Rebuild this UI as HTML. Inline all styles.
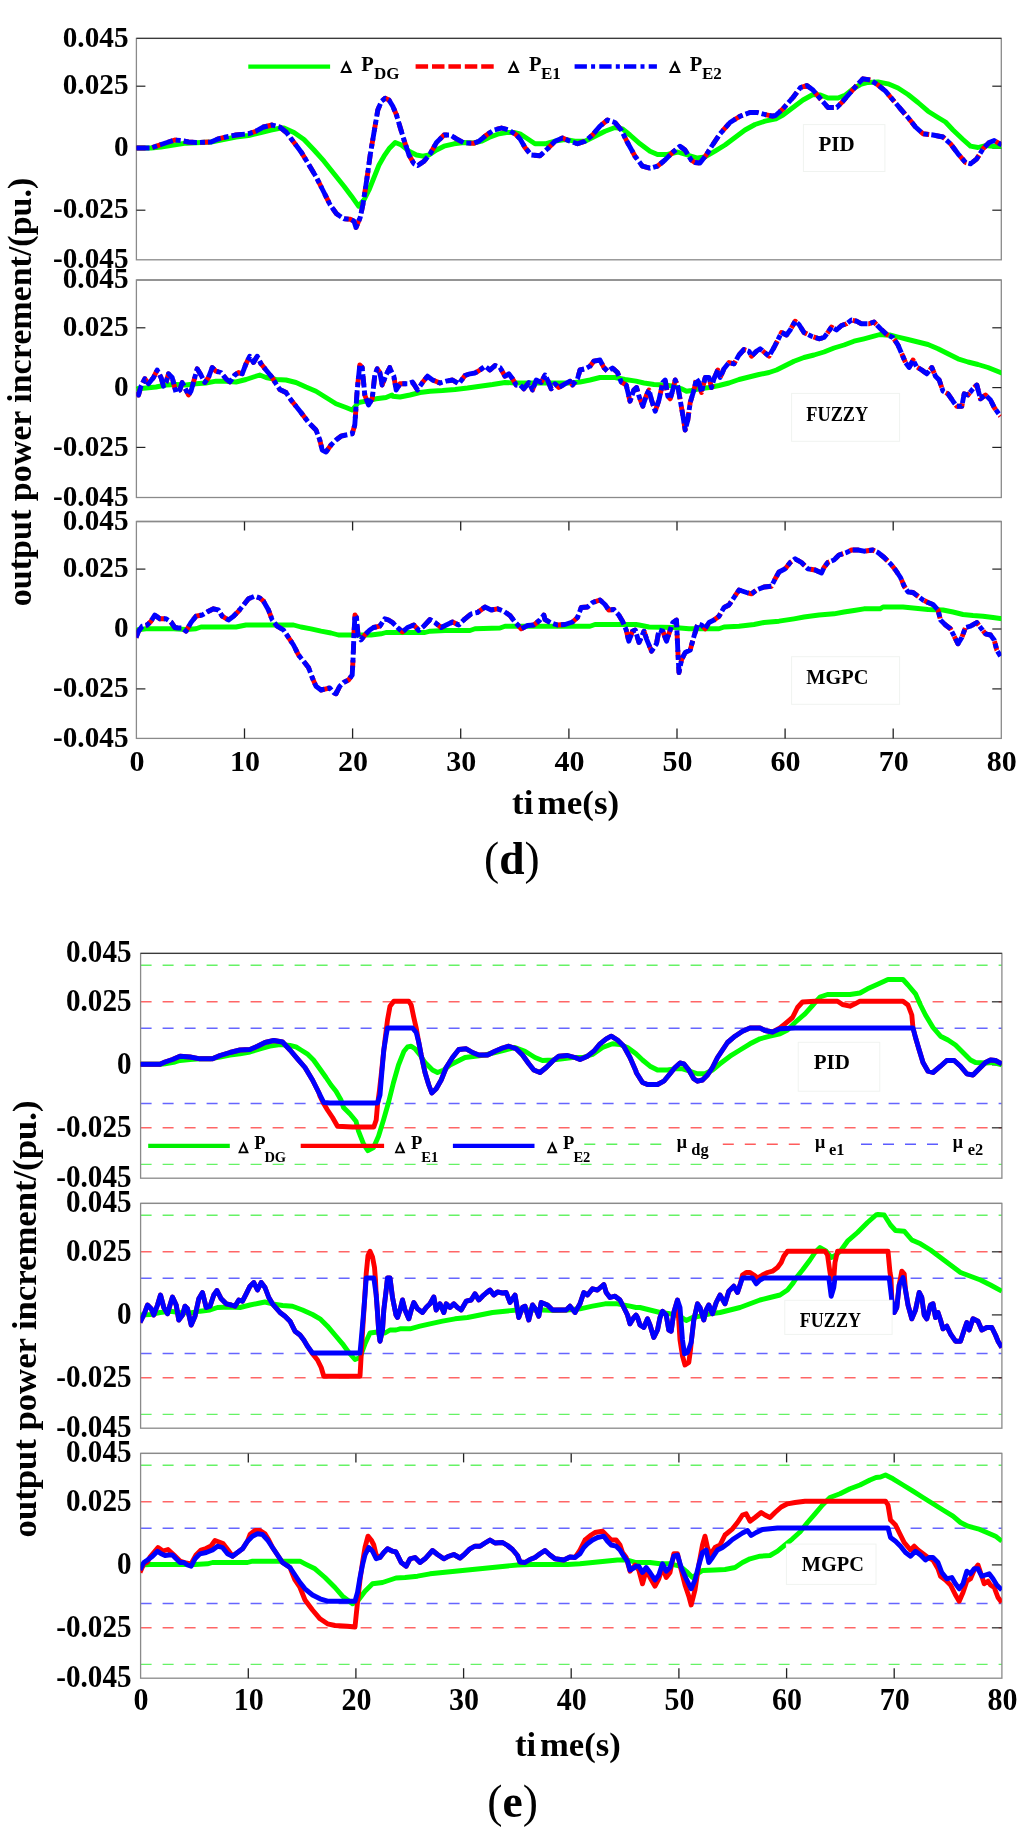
<!DOCTYPE html><html><head><meta charset="utf-8"><title>output power increment</title><style>html,body{margin:0;padding:0;background:#fff;width:1024px;height:1831px;overflow:hidden}svg{display:block;will-change:transform}</style></head><body><svg width="1024" height="1831" viewBox="0 0 1024 1831"><defs><clipPath id="cd0"><rect x="136.4" y="38.4" width="864.9" height="221.4"/></clipPath><clipPath id="cd1"><rect x="136.4" y="280.0" width="864.9" height="217.5"/></clipPath><clipPath id="cd2"><rect x="136.4" y="521.5" width="864.9" height="216.89999999999998"/></clipPath><clipPath id="ce0"><rect x="140.6" y="953.4" width="861.3" height="224.80000000000007"/></clipPath><clipPath id="ce1"><rect x="140.6" y="1203.4" width="861.3" height="224.79999999999995"/></clipPath><clipPath id="ce2"><rect x="140.6" y="1453.4" width="861.3" height="224.79999999999995"/></clipPath></defs><rect width="1024" height="1831" fill="#fff"/><rect x="136.4" y="38.4" width="864.9" height="221.4" fill="none" stroke="#8a8a8a" stroke-width="1.3"/><line x1="136.4" y1="38.4" x2="1001.3" y2="38.4" stroke="#3a3a3a" stroke-width="1.3"/><line x1="136.4" y1="86.2" x2="145.4" y2="86.2" stroke="#222" stroke-width="1.2"/><line x1="992.3" y1="86.2" x2="1001.3" y2="86.2" stroke="#222" stroke-width="1.2"/><line x1="136.4" y1="148.2" x2="145.4" y2="148.2" stroke="#222" stroke-width="1.2"/><line x1="992.3" y1="148.2" x2="1001.3" y2="148.2" stroke="#222" stroke-width="1.2"/><line x1="136.4" y1="210.2" x2="145.4" y2="210.2" stroke="#222" stroke-width="1.2"/><line x1="992.3" y1="210.2" x2="1001.3" y2="210.2" stroke="#222" stroke-width="1.2"/><rect x="136.4" y="280.0" width="864.9" height="217.5" fill="none" stroke="#8a8a8a" stroke-width="1.3"/><line x1="136.4" y1="280.0" x2="1001.3" y2="280.0" stroke="#8a8a8a" stroke-width="1.3"/><line x1="136.4" y1="327.8" x2="145.4" y2="327.8" stroke="#222" stroke-width="1.2"/><line x1="992.3" y1="327.8" x2="1001.3" y2="327.8" stroke="#222" stroke-width="1.2"/><line x1="136.4" y1="387.6" x2="145.4" y2="387.6" stroke="#222" stroke-width="1.2"/><line x1="992.3" y1="387.6" x2="1001.3" y2="387.6" stroke="#222" stroke-width="1.2"/><line x1="136.4" y1="447.4" x2="145.4" y2="447.4" stroke="#222" stroke-width="1.2"/><line x1="992.3" y1="447.4" x2="1001.3" y2="447.4" stroke="#222" stroke-width="1.2"/><rect x="136.4" y="521.5" width="864.9" height="216.89999999999998" fill="none" stroke="#8a8a8a" stroke-width="1.3"/><line x1="136.4" y1="521.5" x2="1001.3" y2="521.5" stroke="#8a8a8a" stroke-width="1.3"/><line x1="136.4" y1="569.1" x2="145.4" y2="569.1" stroke="#222" stroke-width="1.2"/><line x1="992.3" y1="569.1" x2="1001.3" y2="569.1" stroke="#222" stroke-width="1.2"/><line x1="136.4" y1="629.0" x2="145.4" y2="629.0" stroke="#222" stroke-width="1.2"/><line x1="992.3" y1="629.0" x2="1001.3" y2="629.0" stroke="#222" stroke-width="1.2"/><line x1="136.4" y1="688.9" x2="145.4" y2="688.9" stroke="#222" stroke-width="1.2"/><line x1="992.3" y1="688.9" x2="1001.3" y2="688.9" stroke="#222" stroke-width="1.2"/><line x1="244.5" y1="738.4" x2="244.5" y2="728.4" stroke="#222" stroke-width="1.3"/><line x1="244.5" y1="521.5" x2="244.5" y2="530.5" stroke="#222" stroke-width="1.3"/><line x1="352.6" y1="738.4" x2="352.6" y2="728.4" stroke="#222" stroke-width="1.3"/><line x1="352.6" y1="521.5" x2="352.6" y2="530.5" stroke="#222" stroke-width="1.3"/><line x1="460.7" y1="738.4" x2="460.7" y2="728.4" stroke="#222" stroke-width="1.3"/><line x1="460.7" y1="521.5" x2="460.7" y2="530.5" stroke="#222" stroke-width="1.3"/><line x1="568.9" y1="738.4" x2="568.9" y2="728.4" stroke="#222" stroke-width="1.3"/><line x1="568.9" y1="521.5" x2="568.9" y2="530.5" stroke="#222" stroke-width="1.3"/><line x1="677.0" y1="738.4" x2="677.0" y2="728.4" stroke="#222" stroke-width="1.3"/><line x1="677.0" y1="521.5" x2="677.0" y2="530.5" stroke="#222" stroke-width="1.3"/><line x1="785.1" y1="738.4" x2="785.1" y2="728.4" stroke="#222" stroke-width="1.3"/><line x1="785.1" y1="521.5" x2="785.1" y2="530.5" stroke="#222" stroke-width="1.3"/><line x1="893.2" y1="738.4" x2="893.2" y2="728.4" stroke="#222" stroke-width="1.3"/><line x1="893.2" y1="521.5" x2="893.2" y2="530.5" stroke="#222" stroke-width="1.3"/><line x1="140.6" y1="965.3" x2="1001.9" y2="965.3" stroke="#33ee33" stroke-opacity="0.75" stroke-width="1.4" stroke-dasharray="11 11"/><line x1="140.6" y1="1001.8" x2="1001.9" y2="1001.8" stroke="#ff3333" stroke-opacity="0.75" stroke-width="1.4" stroke-dasharray="11 11"/><line x1="140.6" y1="1028.3" x2="1001.9" y2="1028.3" stroke="#3333ff" stroke-opacity="0.75" stroke-width="1.4" stroke-dasharray="11 11"/><line x1="140.6" y1="1103.5" x2="1001.9" y2="1103.5" stroke="#3333ff" stroke-opacity="0.75" stroke-width="1.4" stroke-dasharray="11 11"/><line x1="140.6" y1="1127.8" x2="1001.9" y2="1127.8" stroke="#ff3333" stroke-opacity="0.75" stroke-width="1.4" stroke-dasharray="11 11"/><line x1="140.6" y1="1164.4" x2="1001.9" y2="1164.4" stroke="#33ee33" stroke-opacity="0.75" stroke-width="1.4" stroke-dasharray="11 11"/><rect x="140.6" y="953.4" width="861.3" height="224.80000000000007" fill="none" stroke="#8a8a8a" stroke-width="1.3"/><line x1="140.6" y1="953.4" x2="1001.9" y2="953.4" stroke="#3a3a3a" stroke-width="1.3"/><line x1="991.9" y1="1001.8" x2="1001.9" y2="1001.8" stroke="#333" stroke-width="1.3"/><line x1="991.9" y1="1064.9" x2="1001.9" y2="1064.9" stroke="#333" stroke-width="1.3"/><line x1="991.9" y1="1127.8" x2="1001.9" y2="1127.8" stroke="#333" stroke-width="1.3"/><line x1="140.6" y1="1215.3" x2="1001.9" y2="1215.3" stroke="#33ee33" stroke-opacity="0.75" stroke-width="1.4" stroke-dasharray="11 11"/><line x1="140.6" y1="1251.8" x2="1001.9" y2="1251.8" stroke="#ff3333" stroke-opacity="0.75" stroke-width="1.4" stroke-dasharray="11 11"/><line x1="140.6" y1="1278.3" x2="1001.9" y2="1278.3" stroke="#3333ff" stroke-opacity="0.75" stroke-width="1.4" stroke-dasharray="11 11"/><line x1="140.6" y1="1353.5" x2="1001.9" y2="1353.5" stroke="#3333ff" stroke-opacity="0.75" stroke-width="1.4" stroke-dasharray="11 11"/><line x1="140.6" y1="1377.8" x2="1001.9" y2="1377.8" stroke="#ff3333" stroke-opacity="0.75" stroke-width="1.4" stroke-dasharray="11 11"/><line x1="140.6" y1="1414.4" x2="1001.9" y2="1414.4" stroke="#33ee33" stroke-opacity="0.75" stroke-width="1.4" stroke-dasharray="11 11"/><rect x="140.6" y="1203.4" width="861.3" height="224.79999999999995" fill="none" stroke="#8a8a8a" stroke-width="1.3"/><line x1="140.6" y1="1203.4" x2="1001.9" y2="1203.4" stroke="#8a8a8a" stroke-width="1.3"/><line x1="991.9" y1="1251.8" x2="1001.9" y2="1251.8" stroke="#333" stroke-width="1.3"/><line x1="991.9" y1="1314.9" x2="1001.9" y2="1314.9" stroke="#333" stroke-width="1.3"/><line x1="991.9" y1="1377.8" x2="1001.9" y2="1377.8" stroke="#333" stroke-width="1.3"/><line x1="140.6" y1="1465.3" x2="1001.9" y2="1465.3" stroke="#33ee33" stroke-opacity="0.75" stroke-width="1.4" stroke-dasharray="11 11"/><line x1="140.6" y1="1501.8" x2="1001.9" y2="1501.8" stroke="#ff3333" stroke-opacity="0.75" stroke-width="1.4" stroke-dasharray="11 11"/><line x1="140.6" y1="1528.3" x2="1001.9" y2="1528.3" stroke="#3333ff" stroke-opacity="0.75" stroke-width="1.4" stroke-dasharray="11 11"/><line x1="140.6" y1="1603.5" x2="1001.9" y2="1603.5" stroke="#3333ff" stroke-opacity="0.75" stroke-width="1.4" stroke-dasharray="11 11"/><line x1="140.6" y1="1627.8" x2="1001.9" y2="1627.8" stroke="#ff3333" stroke-opacity="0.75" stroke-width="1.4" stroke-dasharray="11 11"/><line x1="140.6" y1="1664.4" x2="1001.9" y2="1664.4" stroke="#33ee33" stroke-opacity="0.75" stroke-width="1.4" stroke-dasharray="11 11"/><rect x="140.6" y="1453.4" width="861.3" height="224.79999999999995" fill="none" stroke="#8a8a8a" stroke-width="1.3"/><line x1="140.6" y1="1453.4" x2="1001.9" y2="1453.4" stroke="#8a8a8a" stroke-width="1.3"/><line x1="991.9" y1="1501.8" x2="1001.9" y2="1501.8" stroke="#333" stroke-width="1.3"/><line x1="991.9" y1="1564.9" x2="1001.9" y2="1564.9" stroke="#333" stroke-width="1.3"/><line x1="991.9" y1="1627.8" x2="1001.9" y2="1627.8" stroke="#333" stroke-width="1.3"/><line x1="248.3" y1="1678.2" x2="248.3" y2="1668.2" stroke="#222" stroke-width="1.3"/><line x1="248.3" y1="1453.4" x2="248.3" y2="1462.4" stroke="#222" stroke-width="1.3"/><line x1="355.9" y1="1678.2" x2="355.9" y2="1668.2" stroke="#222" stroke-width="1.3"/><line x1="355.9" y1="1453.4" x2="355.9" y2="1462.4" stroke="#222" stroke-width="1.3"/><line x1="463.6" y1="1678.2" x2="463.6" y2="1668.2" stroke="#222" stroke-width="1.3"/><line x1="463.6" y1="1453.4" x2="463.6" y2="1462.4" stroke="#222" stroke-width="1.3"/><line x1="571.2" y1="1678.2" x2="571.2" y2="1668.2" stroke="#222" stroke-width="1.3"/><line x1="571.2" y1="1453.4" x2="571.2" y2="1462.4" stroke="#222" stroke-width="1.3"/><line x1="678.9" y1="1678.2" x2="678.9" y2="1668.2" stroke="#222" stroke-width="1.3"/><line x1="678.9" y1="1453.4" x2="678.9" y2="1462.4" stroke="#222" stroke-width="1.3"/><line x1="786.6" y1="1678.2" x2="786.6" y2="1668.2" stroke="#222" stroke-width="1.3"/><line x1="786.6" y1="1453.4" x2="786.6" y2="1462.4" stroke="#222" stroke-width="1.3"/><line x1="894.2" y1="1678.2" x2="894.2" y2="1668.2" stroke="#222" stroke-width="1.3"/><line x1="894.2" y1="1453.4" x2="894.2" y2="1462.4" stroke="#222" stroke-width="1.3"/><path clip-path="url(#cd0)" d="M136.0,148.0 L151.0,148.0 L161.0,147.0 L173.5,145.0 L186.0,143.2 L201.0,142.5 L211.0,142.0 L223.5,139.5 L236.0,137.0 L248.5,135.5 L261.0,132.5 L271.0,130.0 L281.0,128.0 L284.0,128.0 L294.0,132.5 L304.0,139.5 L314.0,150.0 L324.0,161.2 L334.0,173.8 L344.0,186.2 L351.5,196.2 L358.5,206.2 L364.0,200.0 L369.0,190.0 L374.0,177.5 L379.0,165.0 L384.0,156.2 L389.0,148.8 L395.2,142.5 L401.5,145.0 L409.0,151.2 L416.5,155.0 L422.8,156.2 L429.0,155.0 L436.5,150.0 L444.0,146.2 L454.0,143.8 L464.0,142.5 L474.0,143.0 L481.5,141.2 L489.0,137.5 L499.0,133.8 L506.5,132.5 L514.0,132.5 L520.0,133.8 L527.5,138.8 L535.0,143.8 L545.0,143.8 L555.0,141.2 L565.0,139.5 L575.0,141.2 L585.0,141.2 L595.0,136.2 L605.0,131.2 L615.0,127.5 L622.5,128.8 L630.0,135.0 L640.0,143.8 L650.0,151.2 L657.5,154.5 L667.5,154.5 L677.5,152.0 L687.5,155.0 L697.5,158.0 L705.0,157.0 L715.0,151.2 L725.0,145.0 L735.0,137.5 L745.0,130.0 L755.0,124.5 L765.0,121.2 L776.0,118.8 L783.0,115.0 L793.0,107.5 L803.0,100.0 L813.0,94.5 L820.5,95.0 L828.0,98.0 L838.0,98.0 L845.5,95.0 L853.0,88.8 L860.5,84.5 L868.0,82.5 L878.0,82.0 L888.0,83.8 L898.0,88.0 L908.0,94.5 L918.0,102.5 L928.0,111.2 L938.0,117.5 L945.5,122.0 L953.0,130.0 L963.0,139.5 L970.5,146.2 L978.0,147.5 L985.5,145.5 L993.0,146.2 L1001.8,146.2" stroke="#00ff00" stroke-width="4.9" fill="none" stroke-linejoin="round" stroke-linecap="square"/><path clip-path="url(#cd0)" d="M136.0,148.0 L151.0,148.0 L156.0,146.2 L161.0,144.5 L168.5,142.0 L174.8,140.0 L181.0,140.5 L188.5,142.0 L196.0,142.5 L211.0,142.0 L218.5,138.8 L226.0,137.0 L236.0,135.0 L248.5,133.8 L256.0,131.2 L263.5,127.0 L272.2,125.0 L279.8,127.0 L286.5,132.5 L294.0,142.5 L301.5,152.5 L309.0,165.0 L316.5,177.5 L324.0,192.5 L330.2,205.0 L336.5,213.8 L344.0,218.8 L350.2,219.2 L354.0,221.2 L356.0,227.5 L360.2,217.5 L362.8,205.0 L365.2,190.0 L367.8,172.5 L370.2,155.0 L374.0,132.5 L377.8,110.0 L381.5,101.2 L385.2,98.2 L389.0,100.0 L392.8,106.2 L396.5,115.0 L400.2,127.5 L404.0,140.0 L409.0,155.0 L414.0,163.8 L417.8,165.5 L424.0,161.2 L430.2,153.8 L436.5,142.5 L444.0,135.0 L450.2,135.0 L456.5,138.8 L464.0,143.0 L474.0,143.2 L479.0,141.2 L486.5,135.0 L494.0,130.0 L501.5,128.0 L509.0,130.0 L516.5,135.0 L520.0,138.8 L525.0,147.5 L531.2,155.0 L540.0,155.8 L547.5,148.8 L555.0,141.2 L562.5,138.0 L570.0,141.2 L577.5,143.8 L585.0,141.2 L592.5,135.0 L600.0,126.2 L607.5,120.0 L615.0,122.5 L621.2,130.0 L627.5,142.5 L635.0,156.2 L642.5,166.2 L650.0,168.2 L657.5,166.2 L665.0,160.0 L672.5,152.5 L680.0,146.2 L685.0,150.0 L691.2,160.0 L695.0,162.5 L700.0,163.0 L706.2,155.0 L712.5,145.0 L720.0,133.8 L730.0,122.5 L740.0,116.2 L750.0,112.5 L757.5,112.5 L765.0,114.5 L772.5,116.2 L775.5,115.5 L783.0,108.8 L793.0,97.5 L800.5,87.5 L806.8,85.5 L813.0,90.0 L820.5,98.8 L828.0,107.5 L836.8,107.5 L843.0,101.2 L850.5,92.5 L858.0,83.8 L863.0,78.8 L870.5,80.0 L878.0,85.0 L885.5,91.2 L893.0,100.0 L900.5,108.8 L908.0,117.5 L915.5,127.0 L923.0,133.8 L933.0,135.0 L943.0,137.0 L950.5,143.8 L958.0,153.8 L965.5,162.5 L970.5,163.8 L976.8,158.8 L983.0,148.8 L989.2,142.5 L994.2,140.5 L1001.8,145.0" stroke="#ff0000" stroke-width="4.9" fill="none" stroke-linejoin="round" stroke-dasharray="9.5 6.9"/><path clip-path="url(#cd0)" d="M136.0,148.0 L151.0,148.0 L156.0,146.2 L161.0,144.5 L168.5,142.0 L174.8,140.0 L181.0,140.5 L188.5,142.0 L196.0,142.5 L211.0,142.0 L218.5,138.8 L226.0,137.0 L236.0,135.0 L248.5,133.8 L256.0,131.2 L263.5,127.0 L272.2,125.0 L279.8,127.0 L286.5,132.5 L294.0,142.5 L301.5,152.5 L309.0,165.0 L316.5,177.5 L324.0,192.5 L330.2,205.0 L336.5,213.8 L344.0,218.8 L350.2,219.2 L354.0,221.2 L356.0,227.5 L360.2,217.5 L362.8,205.0 L365.2,190.0 L367.8,172.5 L370.2,155.0 L374.0,132.5 L377.8,110.0 L381.5,101.2 L385.2,98.2 L389.0,100.0 L392.8,106.2 L396.5,115.0 L400.2,127.5 L404.0,140.0 L409.0,155.0 L414.0,163.8 L417.8,165.5 L424.0,161.2 L430.2,153.8 L436.5,142.5 L444.0,135.0 L450.2,135.0 L456.5,138.8 L464.0,143.0 L474.0,143.2 L479.0,141.2 L486.5,135.0 L494.0,130.0 L501.5,128.0 L509.0,130.0 L516.5,135.0 L520.0,138.8 L525.0,147.5 L531.2,155.0 L540.0,155.8 L547.5,148.8 L555.0,141.2 L562.5,138.0 L570.0,141.2 L577.5,143.8 L585.0,141.2 L592.5,135.0 L600.0,126.2 L607.5,120.0 L615.0,122.5 L621.2,130.0 L627.5,142.5 L635.0,156.2 L642.5,166.2 L650.0,168.2 L657.5,166.2 L665.0,160.0 L672.5,152.5 L680.0,146.2 L685.0,150.0 L691.2,160.0 L695.0,162.5 L700.0,163.0 L706.2,155.0 L712.5,145.0 L720.0,133.8 L730.0,122.5 L740.0,116.2 L750.0,112.5 L757.5,112.5 L765.0,114.5 L772.5,116.2 L775.5,115.5 L783.0,108.8 L793.0,97.5 L800.5,87.5 L806.8,85.5 L813.0,90.0 L820.5,98.8 L828.0,107.5 L836.8,107.5 L843.0,101.2 L850.5,92.5 L858.0,83.8 L863.0,78.8 L870.5,80.0 L878.0,85.0 L885.5,91.2 L893.0,100.0 L900.5,108.8 L908.0,117.5 L915.5,127.0 L923.0,133.8 L933.0,135.0 L943.0,137.0 L950.5,143.8 L958.0,153.8 L965.5,162.5 L970.5,163.8 L976.8,158.8 L983.0,148.8 L989.2,142.5 L994.2,140.5 L1001.8,145.0" stroke="#0000ff" stroke-width="4.9" fill="none" stroke-linejoin="round" stroke-dasharray="13.5 3 5 3"/><path clip-path="url(#cd1)" d="M136.0,388.8 L146.0,388.0 L156.0,387.0 L166.0,385.0 L176.0,384.5 L186.0,385.0 L196.0,383.8 L206.0,383.0 L216.0,381.2 L226.0,381.2 L236.0,382.0 L246.0,379.5 L253.5,377.0 L259.8,375.0 L266.0,377.5 L276.0,379.5 L286.0,380.0 L296.0,382.5 L306.0,387.0 L316.0,391.2 L326.0,397.5 L336.0,403.8 L346.0,407.5 L352.2,410.0 L358.5,402.5 L366.0,401.2 L376.0,398.8 L386.0,397.5 L392.0,395.0 L392.5,396.2 L400.0,397.0 L410.0,395.0 L420.0,392.5 L430.0,391.2 L442.5,390.5 L455.0,389.5 L467.5,388.0 L480.0,386.2 L492.5,384.5 L505.0,382.5 L515.0,383.0 L525.0,383.0 L540.0,383.0 L555.0,383.0 L570.0,383.0 L580.0,382.0 L590.0,380.0 L600.0,377.5 L615.0,377.5 L625.0,379.5 L636.0,381.2 L644.0,383.0 L654.0,384.5 L664.0,385.0 L674.0,386.2 L681.5,388.8 L686.5,391.2 L691.5,390.5 L699.0,388.8 L709.0,387.5 L719.0,385.5 L729.0,383.0 L739.0,379.5 L749.0,377.0 L759.0,374.5 L769.0,372.5 L776.5,370.0 L784.0,366.2 L794.0,361.2 L804.0,357.5 L814.0,355.0 L824.0,352.0 L834.0,348.0 L844.0,345.0 L854.0,341.2 L864.0,338.8 L874.0,336.2 L880.0,334.5 L885.5,335.0 L890.5,335.0 L898.0,337.0 L908.0,339.5 L918.0,342.0 L928.0,344.5 L938.0,348.8 L948.0,353.8 L958.0,358.8 L968.0,362.0 L978.0,364.5 L988.0,367.5 L1001.8,373.0" stroke="#00ff00" stroke-width="4.9" fill="none" stroke-linejoin="round" stroke-linecap="square"/><path clip-path="url(#cd1)" d="M136.0,392.5 L138.5,395.0 L141.0,386.2 L144.8,378.8 L148.5,383.8 L153.5,377.5 L157.2,370.0 L161.0,377.5 L163.5,386.2 L166.0,382.5 L168.5,373.8 L172.2,377.5 L176.0,392.5 L179.8,390.0 L182.2,382.5 L186.0,390.0 L188.5,395.0 L191.0,391.2 L194.8,377.5 L197.2,368.8 L201.0,375.0 L204.8,382.5 L208.5,377.5 L212.2,367.5 L216.0,371.2 L221.0,372.5 L226.0,378.8 L229.8,382.0 L234.8,375.0 L238.5,372.5 L242.2,373.8 L246.0,363.8 L249.8,356.2 L253.5,362.5 L257.2,356.2 L261.0,363.8 L266.0,370.0 L272.2,377.5 L276.0,383.8 L279.8,389.5 L286.0,392.5 L291.0,400.0 L296.0,406.2 L301.0,412.5 L308.5,422.5 L316.0,430.0 L319.8,440.0 L322.2,450.0 L326.0,452.0 L331.0,445.0 L336.0,440.0 L341.0,436.2 L346.0,435.0 L352.2,433.8 L354.8,425.0 L356.0,407.5 L357.2,390.0 L359.8,365.0 L362.2,367.5 L364.8,395.0 L368.5,405.0 L372.2,398.8 L374.8,375.0 L377.2,368.8 L379.8,372.5 L382.2,385.0 L386.0,375.0 L389.8,367.5 L390.0,368.8 L393.8,376.2 L396.2,390.0 L400.0,383.8 L407.5,383.8 L412.5,382.0 L417.5,390.0 L422.5,382.5 L427.5,376.2 L432.5,380.0 L440.0,383.0 L446.2,381.2 L452.5,380.0 L458.8,383.8 L465.0,375.5 L470.0,373.8 L475.0,373.0 L480.0,370.0 L485.0,366.2 L490.0,370.0 L495.0,365.5 L500.0,367.5 L505.0,376.2 L508.8,373.8 L512.5,378.8 L516.2,385.0 L520.0,385.0 L523.8,388.8 L528.8,382.5 L532.5,390.0 L536.2,380.0 L541.2,382.5 L545.0,375.0 L547.5,380.0 L551.2,388.8 L555.0,383.8 L558.8,387.5 L565.0,383.8 L570.0,381.2 L572.5,385.0 L577.5,378.8 L580.0,370.0 L585.0,368.8 L590.0,366.2 L593.8,361.2 L600.0,360.0 L603.8,367.5 L607.5,371.2 L612.5,368.0 L617.5,372.5 L621.2,382.0 L626.2,385.0 L630.0,401.2 L633.8,390.0 L636.5,387.5 L639.0,396.2 L642.8,406.2 L646.5,395.0 L649.0,390.0 L651.5,400.0 L655.2,411.2 L659.0,400.0 L662.8,382.5 L665.2,380.0 L667.8,396.2 L670.2,398.8 L672.8,390.0 L675.2,380.0 L677.8,386.2 L680.2,400.0 L682.8,415.0 L685.2,430.0 L687.8,420.0 L690.2,402.5 L694.0,390.0 L696.5,378.8 L699.0,382.5 L701.5,392.5 L705.2,377.5 L709.0,377.5 L711.5,387.5 L714.0,378.8 L717.8,370.0 L720.2,377.5 L724.0,368.8 L729.0,362.5 L734.0,363.8 L739.0,355.0 L744.0,349.5 L749.0,351.2 L751.5,356.2 L756.5,351.2 L760.2,348.8 L764.0,352.0 L769.0,356.2 L774.0,347.5 L777.8,340.0 L781.5,332.5 L786.5,335.0 L790.2,330.0 L795.2,321.2 L799.0,324.5 L804.0,332.5 L811.5,336.2 L819.0,338.8 L824.0,337.5 L827.8,332.5 L831.5,327.0 L836.5,330.0 L841.5,325.5 L846.5,323.8 L851.5,320.0 L856.5,321.2 L861.5,323.8 L869.0,323.8 L874.0,322.0 L880.5,328.8 L886.8,334.5 L893.0,337.5 L898.0,345.0 L901.8,353.8 L905.5,362.5 L909.2,367.5 L913.0,360.0 L916.8,367.0 L921.8,370.0 L926.8,373.8 L931.8,367.5 L935.5,376.2 L939.2,380.0 L943.0,391.2 L948.0,393.8 L953.0,401.2 L956.8,406.2 L961.8,406.2 L964.2,393.8 L968.0,395.0 L973.0,388.8 L976.8,385.0 L980.5,398.8 L985.5,395.0 L990.5,400.0 L994.2,407.5 L1000.5,416.2" stroke="#ff0000" stroke-width="4.9" fill="none" stroke-linejoin="round" stroke-dasharray="9.5 6.9"/><path clip-path="url(#cd1)" d="M136.0,392.5 L138.5,395.0 L141.0,386.2 L144.8,378.8 L148.5,383.8 L153.5,377.5 L157.2,370.0 L161.0,377.5 L163.5,386.2 L166.0,382.5 L168.5,373.8 L172.2,377.5 L176.0,392.5 L179.8,390.0 L182.2,382.5 L186.0,390.0 L188.5,395.0 L191.0,391.2 L194.8,377.5 L197.2,368.8 L201.0,375.0 L204.8,382.5 L208.5,377.5 L212.2,367.5 L216.0,371.2 L221.0,372.5 L226.0,378.8 L229.8,382.0 L234.8,375.0 L238.5,372.5 L242.2,373.8 L246.0,363.8 L249.8,356.2 L253.5,362.5 L257.2,356.2 L261.0,363.8 L266.0,370.0 L272.2,377.5 L276.0,383.8 L279.8,389.5 L286.0,392.5 L291.0,400.0 L296.0,406.2 L301.0,412.5 L308.5,422.5 L316.0,430.0 L319.8,440.0 L322.2,450.0 L326.0,452.0 L331.0,445.0 L336.0,440.0 L341.0,436.2 L346.0,435.0 L352.2,433.8 L354.8,425.0 L356.0,407.5 L357.2,390.0 L359.8,365.0 L362.2,367.5 L364.8,395.0 L368.5,405.0 L372.2,398.8 L374.8,375.0 L377.2,368.8 L379.8,372.5 L382.2,385.0 L386.0,375.0 L389.8,367.5 L390.0,368.8 L393.8,376.2 L396.2,390.0 L400.0,383.8 L407.5,383.8 L412.5,382.0 L417.5,390.0 L422.5,382.5 L427.5,376.2 L432.5,380.0 L440.0,383.0 L446.2,381.2 L452.5,380.0 L458.8,383.8 L465.0,375.5 L470.0,373.8 L475.0,373.0 L480.0,370.0 L485.0,366.2 L490.0,370.0 L495.0,365.5 L500.0,367.5 L505.0,376.2 L508.8,373.8 L512.5,378.8 L516.2,385.0 L520.0,385.0 L523.8,388.8 L528.8,382.5 L532.5,390.0 L536.2,380.0 L541.2,382.5 L545.0,375.0 L547.5,380.0 L551.2,388.8 L555.0,383.8 L558.8,387.5 L565.0,383.8 L570.0,381.2 L572.5,385.0 L577.5,378.8 L580.0,370.0 L585.0,368.8 L590.0,366.2 L593.8,361.2 L600.0,360.0 L603.8,367.5 L607.5,371.2 L612.5,368.0 L617.5,372.5 L621.2,382.0 L626.2,385.0 L630.0,401.2 L633.8,390.0 L636.5,387.5 L639.0,396.2 L642.8,406.2 L646.5,395.0 L649.0,390.0 L651.5,400.0 L655.2,411.2 L659.0,400.0 L662.8,382.5 L665.2,380.0 L667.8,396.2 L670.2,398.8 L672.8,390.0 L675.2,380.0 L677.8,386.2 L680.2,400.0 L682.8,415.0 L685.2,430.0 L687.8,420.0 L690.2,402.5 L694.0,390.0 L696.5,378.8 L699.0,382.5 L701.5,392.5 L705.2,377.5 L709.0,377.5 L711.5,387.5 L714.0,378.8 L717.8,370.0 L720.2,377.5 L724.0,368.8 L729.0,362.5 L734.0,363.8 L739.0,355.0 L744.0,349.5 L749.0,351.2 L751.5,356.2 L756.5,351.2 L760.2,348.8 L764.0,352.0 L769.0,356.2 L774.0,347.5 L777.8,340.0 L781.5,332.5 L786.5,335.0 L790.2,330.0 L795.2,321.2 L799.0,324.5 L804.0,332.5 L811.5,336.2 L819.0,338.8 L824.0,337.5 L827.8,332.5 L831.5,327.0 L836.5,330.0 L841.5,325.5 L846.5,323.8 L851.5,320.0 L856.5,321.2 L861.5,323.8 L869.0,323.8 L874.0,322.0 L880.5,328.8 L886.8,334.5 L893.0,337.5 L898.0,345.0 L901.8,353.8 L905.5,362.5 L909.2,367.5 L913.0,360.0 L916.8,367.0 L921.8,370.0 L926.8,373.8 L931.8,367.5 L935.5,376.2 L939.2,380.0 L943.0,391.2 L948.0,393.8 L953.0,401.2 L956.8,406.2 L961.8,406.2 L964.2,393.8 L968.0,395.0 L973.0,388.8 L976.8,385.0 L980.5,398.8 L985.5,395.0 L990.5,400.0 L994.2,407.5 L1000.5,416.2" stroke="#0000ff" stroke-width="4.9" fill="none" stroke-linejoin="round" stroke-dasharray="13.5 3 5 3"/><path clip-path="url(#cd2)" d="M136.0,630.0 L146.0,628.8 L161.0,628.8 L173.5,628.8 L186.0,629.5 L196.0,628.8 L201.0,627.0 L211.0,627.0 L223.5,627.0 L236.0,627.0 L246.0,625.0 L261.0,625.0 L276.0,625.0 L293.5,625.0 L301.0,627.0 L311.0,628.8 L321.0,631.2 L331.0,633.0 L338.5,635.0 L348.5,635.0 L353.5,635.0 L361.0,635.0 L371.0,635.0 L381.0,633.8 L386.0,632.5 L392.0,632.5 L400.0,632.5 L425.0,632.5 L430.0,631.2 L445.0,630.5 L470.0,630.5 L475.0,628.8 L500.0,628.0 L505.0,626.2 L530.0,626.2 L555.0,626.2 L590.0,626.2 L595.0,624.5 L605.0,624.5 L636.0,624.5 L639.0,625.0 L649.0,627.0 L674.0,627.5 L689.0,628.8 L719.0,628.8 L724.0,627.0 L739.0,626.2 L754.0,624.5 L764.0,622.5 L779.0,621.2 L794.0,618.8 L804.0,617.0 L819.0,615.0 L834.0,613.8 L844.0,612.0 L854.0,610.5 L864.0,608.8 L880.0,608.8 L883.0,607.0 L888.0,607.0 L903.0,607.0 L913.0,608.0 L928.0,609.5 L943.0,610.0 L953.0,612.0 L963.0,614.5 L973.0,615.5 L983.0,616.2 L993.0,617.5 L1001.8,618.8" stroke="#00ff00" stroke-width="4.9" fill="none" stroke-linejoin="round" stroke-linecap="square"/><path clip-path="url(#cd2)" d="M136.0,637.5 L138.5,631.2 L142.2,626.2 L147.2,625.0 L151.0,621.2 L154.8,615.0 L159.8,618.8 L166.0,618.8 L171.0,622.0 L174.8,627.5 L178.5,628.0 L182.2,628.0 L186.0,631.2 L191.0,622.5 L196.0,616.2 L202.2,615.0 L208.5,611.2 L213.5,608.8 L218.5,610.0 L222.2,616.2 L228.5,620.0 L233.5,616.2 L238.5,611.2 L243.5,605.0 L248.5,598.8 L254.8,596.2 L259.8,598.0 L263.5,601.2 L268.5,610.0 L272.2,620.0 L277.2,626.2 L283.5,630.0 L288.5,637.5 L293.5,645.0 L298.5,655.0 L303.5,661.2 L308.5,667.5 L312.2,677.5 L316.0,686.2 L321.0,690.0 L326.0,688.8 L329.8,688.0 L333.5,692.5 L336.0,693.8 L339.8,686.2 L343.5,682.5 L348.5,680.0 L352.2,675.0 L353.0,660.0 L353.5,647.5 L354.0,632.5 L355.0,615.0 L356.5,617.5 L358.0,635.0 L361.0,640.0 L364.8,635.0 L369.8,630.0 L373.5,627.5 L379.8,626.2 L384.8,618.8 L388.5,620.0 L392.5,622.5 L397.5,627.5 L402.5,632.0 L407.5,627.5 L413.8,625.0 L418.8,630.5 L423.8,626.2 L430.0,619.5 L435.0,622.5 L441.2,627.5 L446.2,625.0 L452.5,622.0 L458.8,625.0 L465.0,618.8 L471.2,613.8 L477.5,612.5 L485.0,607.0 L491.2,610.0 L497.5,608.8 L503.8,611.2 L510.0,615.5 L515.0,622.0 L521.2,628.8 L527.5,625.5 L533.8,625.0 L540.0,620.0 L543.8,615.0 L545.0,619.5 L551.2,623.0 L557.5,625.0 L565.0,624.5 L572.5,622.0 L577.5,617.5 L581.2,607.5 L587.5,607.0 L592.5,602.5 L600.0,600.0 L605.0,604.5 L608.8,610.0 L613.8,609.5 L618.8,615.0 L622.5,621.2 L626.2,630.0 L628.8,641.2 L632.5,631.2 L635.2,630.0 L639.0,642.5 L644.0,631.2 L646.5,638.8 L651.5,651.2 L656.5,643.8 L659.0,630.0 L662.8,631.2 L666.5,641.2 L670.2,630.0 L672.8,622.5 L676.5,620.0 L677.8,650.0 L679.0,672.5 L681.5,660.0 L685.2,652.5 L690.2,650.0 L694.0,636.2 L697.8,623.8 L701.5,625.0 L705.2,628.8 L709.0,622.5 L714.0,620.0 L719.0,616.2 L724.0,607.5 L729.0,605.0 L734.0,597.5 L739.0,590.0 L746.5,592.5 L751.5,593.8 L756.5,590.0 L764.0,587.0 L771.5,586.2 L775.2,578.8 L779.0,572.0 L785.2,568.8 L790.2,562.5 L795.2,558.8 L801.5,562.5 L807.8,568.8 L815.2,570.0 L821.5,573.0 L824.0,567.5 L827.8,562.5 L834.0,560.0 L839.0,555.0 L846.5,552.5 L851.5,550.0 L857.8,550.0 L864.0,551.2 L872.8,550.0 L878.0,552.5 L884.2,557.5 L890.5,563.8 L895.5,570.0 L900.5,577.5 L904.2,586.2 L908.0,592.0 L913.0,592.5 L918.0,596.2 L923.0,600.0 L928.0,602.5 L933.0,604.5 L938.0,610.0 L940.5,620.0 L945.5,625.0 L950.5,628.8 L954.2,636.2 L958.0,643.8 L961.8,637.5 L965.5,627.5 L970.5,626.2 L976.8,622.5 L980.5,627.5 L985.5,633.8 L990.5,635.0 L994.2,640.0 L996.8,650.0 L1000.5,656.2" stroke="#ff0000" stroke-width="4.9" fill="none" stroke-linejoin="round" stroke-dasharray="9.5 6.9"/><path clip-path="url(#cd2)" d="M136.0,637.5 L138.5,631.2 L142.2,626.2 L147.2,625.0 L151.0,621.2 L154.8,615.0 L159.8,618.8 L166.0,618.8 L171.0,622.0 L174.8,627.5 L178.5,628.0 L182.2,628.0 L186.0,631.2 L191.0,622.5 L196.0,616.2 L202.2,615.0 L208.5,611.2 L213.5,608.8 L218.5,610.0 L222.2,616.2 L228.5,620.0 L233.5,616.2 L238.5,611.2 L243.5,605.0 L248.5,598.8 L254.8,596.2 L259.8,598.0 L263.5,601.2 L268.5,610.0 L272.2,620.0 L277.2,626.2 L283.5,630.0 L288.5,637.5 L293.5,645.0 L298.5,655.0 L303.5,661.2 L308.5,667.5 L312.2,677.5 L316.0,686.2 L321.0,690.0 L326.0,688.8 L329.8,688.0 L333.5,692.5 L336.0,693.8 L339.8,686.2 L343.5,682.5 L348.5,680.0 L352.2,675.0 L353.0,660.0 L353.5,647.5 L354.0,632.5 L355.0,615.0 L356.5,617.5 L358.0,635.0 L361.0,640.0 L364.8,635.0 L369.8,630.0 L373.5,627.5 L379.8,626.2 L384.8,618.8 L388.5,620.0 L392.5,622.5 L397.5,627.5 L402.5,632.0 L407.5,627.5 L413.8,625.0 L418.8,630.5 L423.8,626.2 L430.0,619.5 L435.0,622.5 L441.2,627.5 L446.2,625.0 L452.5,622.0 L458.8,625.0 L465.0,618.8 L471.2,613.8 L477.5,612.5 L485.0,607.0 L491.2,610.0 L497.5,608.8 L503.8,611.2 L510.0,615.5 L515.0,622.0 L521.2,628.8 L527.5,625.5 L533.8,625.0 L540.0,620.0 L543.8,615.0 L545.0,619.5 L551.2,623.0 L557.5,625.0 L565.0,624.5 L572.5,622.0 L577.5,617.5 L581.2,607.5 L587.5,607.0 L592.5,602.5 L600.0,600.0 L605.0,604.5 L608.8,610.0 L613.8,609.5 L618.8,615.0 L622.5,621.2 L626.2,630.0 L628.8,641.2 L632.5,631.2 L635.2,630.0 L639.0,642.5 L644.0,631.2 L646.5,638.8 L651.5,651.2 L656.5,643.8 L659.0,630.0 L662.8,631.2 L666.5,641.2 L670.2,630.0 L672.8,622.5 L676.5,620.0 L677.8,650.0 L679.0,672.5 L681.5,660.0 L685.2,652.5 L690.2,650.0 L694.0,636.2 L697.8,623.8 L701.5,625.0 L705.2,628.8 L709.0,622.5 L714.0,620.0 L719.0,616.2 L724.0,607.5 L729.0,605.0 L734.0,597.5 L739.0,590.0 L746.5,592.5 L751.5,593.8 L756.5,590.0 L764.0,587.0 L771.5,586.2 L775.2,578.8 L779.0,572.0 L785.2,568.8 L790.2,562.5 L795.2,558.8 L801.5,562.5 L807.8,568.8 L815.2,570.0 L821.5,573.0 L824.0,567.5 L827.8,562.5 L834.0,560.0 L839.0,555.0 L846.5,552.5 L851.5,550.0 L857.8,550.0 L864.0,551.2 L872.8,550.0 L878.0,552.5 L884.2,557.5 L890.5,563.8 L895.5,570.0 L900.5,577.5 L904.2,586.2 L908.0,592.0 L913.0,592.5 L918.0,596.2 L923.0,600.0 L928.0,602.5 L933.0,604.5 L938.0,610.0 L940.5,620.0 L945.5,625.0 L950.5,628.8 L954.2,636.2 L958.0,643.8 L961.8,637.5 L965.5,627.5 L970.5,626.2 L976.8,622.5 L980.5,627.5 L985.5,633.8 L990.5,635.0 L994.2,640.0 L996.8,650.0 L1000.5,656.2" stroke="#0000ff" stroke-width="4.9" fill="none" stroke-linejoin="round" stroke-dasharray="13.5 3 5 3"/><path clip-path="url(#ce0)" d="M140.0,1064.2 L160.0,1064.2 L165.0,1063.8 L175.0,1062.0 L180.0,1060.5 L190.0,1059.5 L200.0,1058.8 L210.0,1058.8 L220.0,1057.0 L230.0,1055.0 L240.0,1053.8 L250.0,1052.0 L260.0,1048.8 L270.0,1046.2 L280.0,1044.5 L290.0,1045.5 L296.0,1046.9 L301.0,1050.0 L307.2,1053.8 L313.5,1060.0 L319.8,1068.8 L326.0,1077.5 L331.0,1085.0 L336.0,1091.2 L341.0,1100.0 L343.5,1107.5 L349.8,1113.8 L356.0,1121.2 L358.5,1131.2 L363.5,1143.8 L367.9,1150.6 L373.5,1147.5 L378.5,1136.2 L383.5,1120.0 L388.5,1102.5 L393.5,1082.5 L398.5,1065.0 L404.0,1051.2 L407.5,1047.0 L411.2,1046.2 L415.0,1048.8 L420.0,1055.0 L425.0,1062.5 L432.5,1070.0 L437.5,1072.5 L443.8,1070.0 L450.0,1065.0 L457.5,1061.2 L465.0,1057.5 L475.0,1056.2 L485.0,1055.0 L495.0,1052.5 L505.0,1050.0 L515.0,1047.5 L525.0,1051.2 L535.0,1057.5 L542.5,1060.5 L552.5,1060.0 L562.5,1058.8 L572.5,1057.5 L582.5,1057.5 L592.5,1054.5 L602.5,1047.5 L612.5,1043.8 L620.0,1044.5 L627.5,1047.5 L636.0,1053.8 L642.5,1060.0 L650.0,1066.2 L657.5,1070.0 L667.5,1070.0 L675.0,1068.8 L682.5,1068.8 L690.0,1071.2 L697.5,1073.8 L705.0,1073.8 L712.5,1070.0 L720.0,1063.8 L730.0,1056.2 L740.0,1050.0 L750.0,1043.8 L760.0,1038.8 L770.0,1036.2 L780.0,1033.8 L787.5,1030.0 L795.0,1022.5 L805.0,1013.8 L812.5,1005.5 L820.0,997.0 L827.5,994.5 L837.5,994.5 L850.0,994.5 L860.0,993.0 L867.5,988.8 L876.0,985.0 L888.0,979.5 L903.0,979.5 L908.0,985.0 L915.5,993.8 L920.5,1005.0 L925.5,1015.0 L933.0,1027.5 L940.5,1036.2 L948.0,1040.0 L955.5,1045.0 L963.0,1052.5 L970.5,1060.0 L975.5,1062.5 L985.5,1063.0 L993.0,1062.5 L1001.8,1065.0" stroke="#00ff00" stroke-width="4.9" fill="none" stroke-linejoin="round"/><path clip-path="url(#ce0)" d="M140.0,1064.2 L160.0,1064.2 L165.0,1062.0 L172.5,1059.5 L180.0,1056.2 L190.0,1057.0 L200.0,1058.8 L212.5,1058.8 L220.0,1055.5 L230.0,1052.5 L240.0,1050.0 L250.0,1049.5 L257.5,1046.2 L265.0,1042.5 L273.8,1040.5 L282.5,1042.0 L290.0,1050.0 L297.5,1058.8 L305.0,1067.5 L312.5,1080.0 L318.8,1092.5 L320.0,1096.2 L323.8,1103.8 L327.5,1110.0 L332.5,1117.5 L337.5,1126.2 L352.5,1127.0 L373.8,1127.0 L376.2,1120.0 L377.5,1105.0 L379.5,1090.0 L381.2,1075.0 L383.0,1057.5 L385.0,1040.0 L387.5,1020.0 L390.0,1006.2 L393.8,1001.2 L396.0,1001.2 L400.0,1001.2 L408.8,1001.2 L411.2,1005.0 L413.8,1017.5 L416.2,1028.0 L418.8,1042.5 L421.2,1055.0 L425.0,1072.5 L428.8,1085.0 L431.8,1093.0 L436.2,1088.8 L441.2,1080.0 L446.2,1067.5 L452.5,1057.5 L458.8,1049.5 L466.2,1048.8 L472.5,1052.5 L478.8,1055.0 L487.5,1055.0 L495.0,1051.2 L502.5,1048.0 L508.8,1046.2 L516.2,1048.8 L522.5,1055.0 L528.8,1063.8 L533.8,1070.0 L540.0,1072.5 L546.2,1067.5 L552.5,1061.2 L558.8,1056.2 L567.5,1055.5 L575.0,1057.5 L580.0,1059.5 L587.5,1056.2 L593.8,1051.2 L600.0,1043.8 L606.2,1038.8 L611.2,1036.2 L617.5,1040.0 L623.8,1046.2 L630.0,1057.5 L636.0,1071.2 L636.2,1072.5 L642.5,1082.5 L647.5,1084.5 L657.5,1084.5 L663.8,1081.2 L670.0,1073.8 L675.0,1067.5 L680.0,1063.0 L683.8,1063.8 L688.8,1070.0 L693.8,1078.8 L697.5,1081.2 L702.5,1080.0 L707.5,1075.0 L712.5,1067.5 L717.5,1057.5 L722.5,1050.0 L727.5,1042.5 L735.0,1036.2 L742.5,1031.2 L750.0,1028.0 L760.0,1028.0 L765.0,1030.5 L772.5,1032.0 L780.0,1028.0 L785.0,1023.8 L792.5,1017.5 L797.5,1007.5 L802.5,1002.0 L815.0,1001.2 L837.5,1001.2 L842.5,1004.5 L850.0,1006.2 L855.0,1003.8 L860.0,1001.2 L876.0,1001.2 L878.0,1001.2 L903.0,1001.2 L908.0,1005.0 L911.8,1015.0 L913.0,1028.0 L915.5,1037.5 L919.2,1050.0 L923.0,1062.5 L928.0,1071.2 L933.0,1072.5 L940.5,1066.2 L946.8,1060.5 L954.2,1060.5 L960.5,1066.2 L966.8,1073.8 L973.0,1075.0 L979.2,1068.8 L985.5,1062.5 L990.5,1060.0 L995.5,1060.5 L1001.8,1063.8" stroke="#ff0000" stroke-width="4.9" fill="none" stroke-linejoin="round"/><path clip-path="url(#ce0)" d="M140.0,1064.2 L160.0,1064.2 L165.0,1062.0 L172.5,1059.5 L180.0,1056.2 L190.0,1057.0 L200.0,1058.8 L212.5,1058.8 L220.0,1055.5 L230.0,1052.5 L240.0,1050.0 L250.0,1049.5 L257.5,1046.2 L265.0,1042.5 L273.8,1040.5 L282.5,1042.0 L290.0,1050.0 L297.5,1058.8 L305.0,1067.5 L312.5,1080.0 L318.8,1092.5 L323.8,1102.5 L330.0,1103.0 L377.5,1103.0 L380.0,1095.0 L381.2,1080.0 L382.5,1065.0 L383.8,1050.0 L386.2,1035.0 L387.5,1028.0 L396.0,1028.0 L412.5,1028.0 L416.2,1032.5 L418.8,1042.5 L421.2,1055.0 L425.0,1072.5 L428.8,1085.0 L431.8,1093.0 L436.2,1088.8 L441.2,1080.0 L446.2,1067.5 L452.5,1057.5 L458.8,1049.5 L466.2,1048.8 L472.5,1052.5 L478.8,1055.0 L487.5,1055.0 L495.0,1051.2 L502.5,1048.0 L508.8,1046.2 L516.2,1048.8 L522.5,1055.0 L528.8,1063.8 L533.8,1070.0 L540.0,1072.5 L546.2,1067.5 L552.5,1061.2 L558.8,1056.2 L567.5,1055.5 L575.0,1057.5 L580.0,1059.5 L587.5,1056.2 L593.8,1051.2 L600.0,1043.8 L606.2,1038.8 L611.2,1036.2 L617.5,1040.0 L623.8,1046.2 L630.0,1057.5 L636.0,1071.2 L636.2,1072.5 L642.5,1082.5 L647.5,1084.5 L657.5,1084.5 L663.8,1081.2 L670.0,1073.8 L675.0,1067.5 L680.0,1063.0 L683.8,1063.8 L688.8,1070.0 L693.8,1078.8 L697.5,1081.2 L702.5,1080.0 L707.5,1075.0 L712.5,1067.5 L717.5,1057.5 L722.5,1050.0 L727.5,1042.5 L735.0,1036.2 L742.5,1031.2 L750.0,1028.0 L760.0,1028.0 L765.0,1030.5 L772.5,1032.0 L780.0,1028.8 L795.0,1028.0 L876.0,1028.0 L913.0,1028.0 L915.5,1037.5 L919.2,1050.0 L923.0,1062.5 L928.0,1071.2 L933.0,1072.5 L940.5,1066.2 L946.8,1060.5 L954.2,1060.5 L960.5,1066.2 L966.8,1073.8 L973.0,1075.0 L979.2,1068.8 L985.5,1062.5 L990.5,1060.0 L995.5,1060.5 L1001.8,1063.8" stroke="#0000ff" stroke-width="4.9" fill="none" stroke-linejoin="round"/><path clip-path="url(#ce1)" d="M140.0,1315.0 L150.0,1314.5 L160.0,1312.5 L170.0,1311.2 L180.0,1312.5 L190.0,1313.0 L200.0,1311.2 L210.0,1310.0 L217.5,1307.5 L230.0,1307.0 L240.0,1307.5 L250.0,1305.0 L260.0,1303.0 L265.0,1302.0 L272.5,1303.8 L282.5,1305.5 L292.5,1306.2 L302.5,1310.0 L312.5,1314.5 L320.0,1318.8 L327.5,1326.2 L335.0,1335.0 L342.5,1343.8 L348.8,1352.5 L355.0,1359.5 L360.0,1357.5 L365.0,1343.8 L370.0,1333.0 L377.5,1332.0 L385.0,1333.0 L390.0,1330.0 L396.0,1330.0 L400.0,1328.8 L410.0,1328.8 L420.0,1326.2 L430.0,1323.8 L442.5,1321.2 L455.0,1318.8 L467.5,1317.5 L480.0,1315.0 L492.5,1312.5 L505.0,1311.2 L517.5,1310.0 L530.0,1310.0 L542.5,1310.0 L555.0,1310.5 L567.5,1310.0 L580.0,1308.8 L592.5,1306.2 L605.0,1303.8 L617.5,1303.8 L630.0,1306.2 L636.0,1307.5 L640.0,1307.5 L650.0,1310.0 L660.0,1312.5 L670.0,1313.8 L680.0,1316.2 L686.2,1320.5 L692.5,1317.5 L700.0,1316.2 L710.0,1313.8 L720.0,1312.5 L730.0,1310.0 L740.0,1307.5 L750.0,1303.8 L760.0,1300.0 L770.0,1297.5 L780.0,1295.0 L787.5,1290.0 L792.5,1283.8 L797.5,1276.2 L802.5,1270.0 L810.0,1260.0 L815.0,1252.5 L820.0,1247.5 L826.2,1251.2 L831.2,1257.5 L836.2,1255.0 L841.2,1250.0 L847.5,1241.2 L857.5,1232.5 L867.5,1222.5 L876.0,1215.0 L878.0,1214.5 L884.2,1215.0 L890.5,1225.0 L895.5,1230.5 L904.2,1231.2 L911.8,1240.0 L920.5,1243.8 L930.5,1250.0 L940.5,1257.5 L950.5,1265.0 L960.5,1272.5 L970.5,1276.2 L980.5,1280.0 L990.5,1285.0 L1001.8,1291.2" stroke="#00ff00" stroke-width="4.9" fill="none" stroke-linejoin="round"/><path clip-path="url(#ce1)" d="M140.0,1322.5 L143.8,1315.0 L147.5,1305.0 L151.2,1308.8 L153.8,1315.0 L157.5,1305.0 L160.5,1295.0 L163.8,1307.5 L167.5,1313.8 L170.0,1305.0 L172.5,1297.0 L176.2,1305.0 L178.8,1320.0 L182.5,1315.0 L185.0,1306.2 L187.5,1308.8 L191.2,1325.0 L195.0,1316.2 L198.8,1298.8 L202.5,1292.5 L206.2,1307.5 L210.0,1306.2 L213.8,1295.0 L217.0,1290.5 L221.2,1298.8 L226.2,1303.8 L231.2,1305.0 L235.0,1306.2 L238.8,1300.0 L242.5,1301.2 L246.2,1293.8 L250.0,1286.2 L253.8,1282.5 L257.5,1290.0 L261.2,1282.5 L265.0,1287.5 L268.8,1297.5 L272.5,1303.8 L280.0,1312.5 L285.0,1316.2 L290.0,1321.2 L295.0,1331.2 L300.0,1335.0 L303.8,1340.0 L307.5,1346.2 L312.5,1353.8 L317.5,1360.0 L321.2,1367.5 L323.8,1376.2 L360.0,1376.2 L361.2,1355.0 L362.5,1332.5 L363.8,1312.5 L365.0,1292.5 L366.2,1273.8 L368.0,1255.5 L370.0,1251.2 L372.5,1257.0 L374.5,1267.5 L375.5,1280.0 L376.2,1295.0 L377.5,1312.5 L378.8,1332.5 L380.0,1341.2 L382.5,1330.0 L383.8,1310.0 L386.2,1290.0 L387.5,1278.0 L390.0,1278.0 L392.5,1297.5 L396.0,1315.0 L397.5,1317.5 L400.0,1310.0 L402.5,1300.0 L405.0,1310.0 L408.8,1318.8 L411.2,1310.0 L413.8,1302.5 L417.5,1308.8 L422.5,1312.5 L426.2,1307.5 L430.0,1303.8 L433.8,1297.0 L436.2,1310.0 L440.0,1303.8 L443.8,1312.5 L446.2,1303.8 L450.0,1307.5 L453.8,1303.8 L457.5,1307.5 L461.2,1310.0 L466.2,1301.2 L471.2,1300.0 L475.0,1293.8 L478.8,1300.0 L482.5,1296.2 L486.2,1293.0 L490.0,1290.0 L493.8,1295.0 L497.5,1292.0 L502.5,1293.0 L506.2,1292.5 L510.0,1302.5 L515.0,1295.0 L518.8,1317.5 L522.5,1307.5 L525.0,1306.2 L528.8,1320.0 L532.5,1305.0 L536.2,1310.0 L538.8,1316.2 L541.2,1302.5 L547.5,1305.0 L552.5,1310.0 L560.0,1310.0 L566.2,1310.0 L570.0,1306.2 L575.0,1312.5 L580.0,1303.8 L583.8,1292.5 L587.5,1295.0 L592.5,1288.8 L597.5,1290.0 L603.8,1284.5 L606.2,1292.5 L610.0,1297.5 L615.0,1296.2 L620.0,1300.0 L623.8,1307.5 L627.5,1315.0 L630.0,1323.8 L633.8,1317.5 L636.0,1315.0 L637.5,1317.5 L640.0,1325.0 L643.8,1327.5 L647.5,1318.8 L650.0,1325.0 L653.8,1337.5 L657.5,1330.0 L660.0,1317.5 L662.5,1311.2 L666.2,1315.0 L668.8,1330.0 L671.2,1331.2 L673.8,1312.5 L677.5,1300.0 L680.0,1340.0 L682.5,1356.2 L685.0,1365.0 L688.8,1362.5 L690.5,1350.0 L691.2,1342.5 L693.8,1320.0 L697.5,1303.8 L700.0,1307.5 L703.8,1320.0 L706.2,1310.0 L708.8,1305.0 L712.5,1313.8 L716.2,1302.5 L720.0,1295.0 L725.0,1303.8 L728.8,1291.2 L733.8,1286.2 L737.5,1292.5 L740.0,1285.0 L742.5,1275.0 L746.2,1272.5 L750.0,1272.5 L753.8,1275.0 L757.5,1278.0 L762.5,1275.0 L767.5,1272.5 L772.5,1271.2 L777.5,1267.5 L781.2,1262.5 L783.8,1256.2 L787.5,1251.2 L825.0,1251.2 L827.5,1255.0 L830.0,1272.5 L831.2,1278.8 L833.8,1278.0 L835.0,1262.5 L837.5,1251.2 L876.0,1251.2 L878.0,1251.2 L888.0,1251.2 L890.0,1272.5 L891.0,1278.0 L891.8,1300.0 L894.2,1312.5 L896.8,1307.5 L899.2,1285.0 L901.8,1271.2 L904.2,1273.8 L905.5,1290.0 L908.0,1305.0 L911.8,1318.8 L915.5,1310.0 L919.2,1292.5 L921.8,1297.5 L924.2,1315.0 L926.8,1318.8 L930.5,1305.0 L933.0,1303.8 L935.5,1317.5 L938.0,1312.5 L940.5,1320.0 L943.0,1328.8 L946.8,1326.2 L950.5,1333.8 L955.5,1341.2 L960.5,1341.2 L964.2,1330.0 L966.8,1322.5 L969.2,1330.0 L973.0,1318.8 L978.0,1321.2 L981.8,1330.0 L986.8,1327.5 L991.8,1327.5 L995.5,1335.0 L998.0,1341.2 L1001.8,1347.5" stroke="#ff0000" stroke-width="4.9" fill="none" stroke-linejoin="round"/><path clip-path="url(#ce1)" d="M140.0,1322.5 L143.8,1315.0 L147.5,1305.0 L151.2,1308.8 L153.8,1315.0 L157.5,1305.0 L160.5,1295.0 L163.8,1307.5 L167.5,1313.8 L170.0,1305.0 L172.5,1297.0 L176.2,1305.0 L178.8,1320.0 L182.5,1315.0 L185.0,1306.2 L187.5,1308.8 L191.2,1325.0 L195.0,1316.2 L198.8,1298.8 L202.5,1292.5 L206.2,1307.5 L210.0,1306.2 L213.8,1295.0 L217.0,1290.5 L221.2,1298.8 L226.2,1303.8 L231.2,1305.0 L235.0,1306.2 L238.8,1300.0 L242.5,1301.2 L246.2,1293.8 L250.0,1286.2 L253.8,1282.5 L257.5,1290.0 L261.2,1282.5 L265.0,1287.5 L268.8,1297.5 L272.5,1303.8 L280.0,1312.5 L285.0,1316.2 L290.0,1321.2 L295.0,1331.2 L300.0,1335.0 L303.8,1340.0 L307.5,1346.2 L312.5,1353.0 L320.0,1353.0 L360.0,1353.0 L361.2,1340.0 L362.5,1325.0 L363.8,1310.0 L365.0,1295.0 L366.2,1278.0 L373.8,1278.0 L376.2,1295.0 L377.5,1312.5 L378.8,1332.5 L380.0,1341.2 L382.5,1330.0 L383.8,1310.0 L386.2,1290.0 L387.5,1278.0 L390.0,1278.0 L392.5,1297.5 L396.0,1315.0 L397.5,1317.5 L400.0,1310.0 L402.5,1300.0 L405.0,1310.0 L408.8,1318.8 L411.2,1310.0 L413.8,1302.5 L417.5,1308.8 L422.5,1312.5 L426.2,1307.5 L430.0,1303.8 L433.8,1297.0 L436.2,1310.0 L440.0,1303.8 L443.8,1312.5 L446.2,1303.8 L450.0,1307.5 L453.8,1303.8 L457.5,1307.5 L461.2,1310.0 L466.2,1301.2 L471.2,1300.0 L475.0,1293.8 L478.8,1300.0 L482.5,1296.2 L486.2,1293.0 L490.0,1290.0 L493.8,1295.0 L497.5,1292.0 L502.5,1293.0 L506.2,1292.5 L510.0,1302.5 L515.0,1295.0 L518.8,1317.5 L522.5,1307.5 L525.0,1306.2 L528.8,1320.0 L532.5,1305.0 L536.2,1310.0 L538.8,1316.2 L541.2,1302.5 L547.5,1305.0 L552.5,1310.0 L560.0,1310.0 L566.2,1310.0 L570.0,1306.2 L575.0,1312.5 L580.0,1303.8 L583.8,1292.5 L587.5,1295.0 L592.5,1288.8 L597.5,1290.0 L603.8,1284.5 L606.2,1292.5 L610.0,1297.5 L615.0,1296.2 L620.0,1300.0 L623.8,1307.5 L627.5,1315.0 L630.0,1323.8 L633.8,1317.5 L636.0,1315.0 L637.5,1317.5 L640.0,1325.0 L643.8,1327.5 L647.5,1318.8 L650.0,1325.0 L653.8,1337.5 L657.5,1330.0 L660.0,1317.5 L662.5,1311.2 L666.2,1315.0 L668.8,1330.0 L671.2,1331.2 L673.8,1312.5 L677.5,1300.0 L680.0,1307.5 L682.5,1340.0 L684.5,1353.8 L687.5,1352.5 L691.2,1342.5 L693.8,1320.0 L697.5,1303.8 L700.0,1307.5 L703.8,1320.0 L706.2,1310.0 L708.8,1305.0 L712.5,1313.8 L716.2,1302.5 L720.0,1295.0 L725.0,1303.8 L728.8,1291.2 L733.8,1286.2 L737.5,1292.5 L740.0,1285.0 L742.5,1278.0 L752.5,1278.0 L756.2,1283.8 L760.0,1280.0 L763.8,1278.0 L828.8,1278.0 L831.2,1296.2 L833.8,1287.5 L835.0,1278.0 L876.0,1278.0 L878.0,1278.0 L889.2,1278.0 L891.8,1300.0 L894.2,1312.5 L896.8,1307.5 L899.2,1285.0 L903.0,1277.5 L905.5,1290.0 L908.0,1305.0 L911.8,1318.8 L915.5,1310.0 L919.2,1292.5 L921.8,1297.5 L924.2,1315.0 L926.8,1318.8 L930.5,1305.0 L933.0,1303.8 L935.5,1317.5 L938.0,1312.5 L940.5,1320.0 L943.0,1328.8 L946.8,1326.2 L950.5,1333.8 L955.5,1341.2 L960.5,1341.2 L964.2,1330.0 L966.8,1322.5 L969.2,1330.0 L973.0,1318.8 L978.0,1321.2 L981.8,1330.0 L986.8,1327.5 L991.8,1327.5 L995.5,1335.0 L998.0,1341.2 L1001.8,1347.5" stroke="#0000ff" stroke-width="4.9" fill="none" stroke-linejoin="round"/><path clip-path="url(#ce2)" d="M140.0,1565.0 L150.0,1564.5 L165.0,1564.5 L180.0,1564.5 L195.0,1564.5 L207.5,1563.8 L212.5,1562.5 L227.5,1562.5 L247.5,1562.5 L252.5,1561.2 L265.0,1561.2 L280.0,1561.2 L300.0,1561.2 L305.0,1563.8 L315.0,1568.8 L325.0,1577.5 L335.0,1587.5 L342.5,1596.2 L347.5,1600.0 L352.5,1603.8 L357.5,1601.2 L365.0,1591.2 L372.5,1583.8 L382.5,1582.5 L390.0,1580.0 L396.0,1578.0 L405.0,1577.5 L417.5,1576.2 L430.0,1573.8 L442.5,1572.5 L455.0,1571.2 L467.5,1570.0 L480.0,1568.8 L492.5,1567.5 L505.0,1566.2 L517.5,1565.0 L530.0,1564.5 L542.5,1564.5 L555.0,1564.5 L567.5,1564.5 L580.0,1563.8 L592.5,1562.5 L605.0,1561.2 L617.5,1560.0 L627.5,1560.0 L636.0,1562.5 L640.0,1562.5 L650.0,1562.5 L660.0,1563.8 L670.0,1563.8 L680.0,1566.2 L687.5,1572.5 L692.5,1577.5 L697.5,1573.8 L702.5,1570.5 L715.0,1570.0 L725.0,1569.5 L735.0,1567.5 L742.5,1562.5 L750.0,1558.8 L760.0,1556.2 L770.0,1555.5 L777.5,1551.2 L785.0,1545.0 L792.5,1538.8 L800.0,1532.0 L807.5,1522.5 L815.0,1513.8 L822.5,1505.0 L830.0,1497.5 L840.0,1493.8 L850.0,1488.8 L860.0,1485.0 L870.0,1480.0 L876.0,1477.5 L880.5,1477.0 L885.5,1475.0 L893.0,1478.8 L903.0,1485.0 L913.0,1491.2 L923.0,1497.5 L933.0,1503.8 L943.0,1510.0 L953.0,1516.2 L960.5,1522.5 L968.0,1526.2 L978.0,1528.8 L988.0,1533.0 L995.5,1536.2 L1001.8,1541.2" stroke="#00ff00" stroke-width="4.9" fill="none" stroke-linejoin="round"/><path clip-path="url(#ce2)" d="M140.0,1572.5 L143.8,1563.8 L147.5,1562.0 L150.0,1557.0 L158.0,1547.5 L163.0,1551.0 L168.0,1549.5 L174.0,1555.0 L180.0,1561.0 L186.0,1563.0 L191.0,1564.0 L196.0,1555.0 L201.0,1550.0 L206.0,1548.5 L211.0,1546.0 L215.0,1540.5 L219.0,1542.0 L223.0,1543.5 L228.0,1550.0 L232.5,1556.2 L237.5,1552.5 L242.5,1548.8 L247.5,1541.2 L250.0,1534.5 L255.0,1530.5 L260.0,1530.5 L265.0,1533.8 L268.8,1540.0 L272.5,1547.5 L277.5,1555.0 L282.5,1562.5 L290.0,1567.5 L295.0,1580.0 L300.0,1587.5 L305.0,1600.0 L312.5,1610.0 L320.0,1618.8 L327.5,1623.8 L335.0,1625.5 L347.5,1626.2 L355.0,1627.0 L356.2,1615.0 L357.5,1602.5 L360.0,1580.0 L362.5,1562.5 L365.0,1547.5 L368.0,1536.2 L371.2,1540.0 L373.8,1545.0 L376.2,1555.0 L380.0,1557.5 L383.8,1552.5 L387.5,1548.8 L392.5,1551.2 L396.0,1552.0 L397.5,1555.0 L401.2,1562.5 L406.2,1566.2 L410.0,1558.8 L415.0,1557.5 L420.0,1562.5 L425.0,1558.8 L432.5,1550.5 L437.5,1554.5 L443.8,1558.8 L448.8,1556.2 L453.8,1554.5 L460.0,1558.0 L465.0,1553.8 L470.0,1548.8 L475.0,1546.2 L480.0,1546.2 L485.0,1543.0 L490.0,1540.0 L495.0,1543.0 L502.5,1542.5 L507.5,1545.5 L512.5,1549.5 L517.5,1555.5 L520.0,1562.0 L525.0,1562.5 L530.0,1559.5 L535.0,1557.5 L540.0,1553.8 L545.0,1550.5 L550.0,1555.0 L555.0,1558.8 L563.8,1560.0 L570.0,1557.0 L575.0,1557.5 L580.0,1550.0 L585.0,1540.0 L591.2,1535.0 L595.0,1532.5 L602.5,1531.2 L606.2,1535.0 L611.2,1540.0 L616.2,1540.0 L620.0,1545.0 L622.5,1552.5 L626.2,1557.5 L630.0,1571.2 L635.0,1565.0 L638.8,1570.0 L642.5,1583.8 L646.2,1570.0 L650.0,1577.5 L655.0,1586.2 L658.8,1578.8 L662.5,1567.5 L666.2,1577.5 L670.0,1572.5 L673.8,1553.8 L677.5,1553.8 L681.2,1570.0 L685.0,1585.0 L688.8,1596.2 L691.2,1605.0 L695.0,1590.0 L698.8,1565.0 L702.5,1545.0 L705.0,1536.2 L707.5,1547.5 L710.0,1555.0 L715.0,1547.5 L720.0,1545.0 L725.0,1535.0 L732.5,1528.8 L737.5,1522.5 L742.5,1515.0 L746.2,1513.8 L750.0,1521.2 L755.0,1517.5 L761.2,1512.5 L765.0,1515.0 L770.0,1517.5 L775.0,1512.5 L781.2,1507.0 L787.5,1503.8 L795.0,1502.5 L805.0,1501.2 L876.0,1501.2 L878.0,1501.2 L885.5,1501.2 L888.0,1505.0 L890.5,1520.0 L895.5,1525.0 L899.2,1532.5 L904.2,1542.5 L910.5,1550.0 L914.2,1546.2 L918.0,1550.0 L923.0,1553.8 L928.0,1557.5 L933.0,1560.0 L938.0,1568.8 L940.5,1576.2 L945.5,1580.0 L950.5,1585.0 L955.5,1595.0 L959.2,1601.2 L963.0,1592.5 L966.8,1581.2 L970.5,1578.8 L974.2,1570.0 L978.0,1565.0 L980.5,1572.5 L984.2,1583.8 L988.0,1581.2 L990.5,1585.0 L994.2,1587.5 L998.0,1597.5 L1001.8,1602.5" stroke="#ff0000" stroke-width="4.9" fill="none" stroke-linejoin="round"/><path clip-path="url(#ce2)" d="M140.0,1570.0 L143.8,1562.5 L147.5,1560.0 L152.5,1556.2 L157.5,1551.2 L161.2,1553.8 L165.0,1555.5 L168.8,1555.0 L172.5,1555.0 L176.2,1558.8 L180.0,1562.5 L183.8,1562.5 L187.5,1565.0 L191.2,1566.2 L195.0,1558.8 L200.0,1553.8 L206.2,1552.5 L212.5,1550.0 L217.5,1546.2 L222.5,1547.5 L227.5,1553.8 L232.5,1556.2 L237.5,1552.5 L242.5,1548.8 L247.5,1541.2 L252.5,1536.2 L257.5,1533.8 L262.5,1534.5 L267.5,1540.0 L272.5,1547.5 L277.5,1555.0 L282.5,1562.5 L290.0,1567.5 L295.0,1575.0 L300.0,1582.5 L305.0,1588.8 L312.5,1595.0 L320.0,1598.8 L327.5,1601.2 L340.0,1601.2 L355.0,1601.2 L357.5,1592.5 L360.0,1577.5 L362.5,1565.0 L365.0,1555.0 L368.8,1547.5 L372.5,1551.2 L376.2,1558.8 L380.0,1557.5 L383.8,1552.5 L387.5,1548.8 L392.5,1551.2 L396.0,1552.0 L397.5,1555.0 L401.2,1562.5 L406.2,1566.2 L410.0,1558.8 L415.0,1557.5 L420.0,1562.5 L425.0,1558.8 L432.5,1550.5 L437.5,1554.5 L443.8,1558.8 L448.8,1556.2 L453.8,1554.5 L460.0,1558.0 L465.0,1553.8 L470.0,1548.8 L475.0,1546.2 L480.0,1546.2 L485.0,1543.0 L490.0,1540.0 L495.0,1543.0 L502.5,1542.5 L507.5,1545.5 L512.5,1549.5 L517.5,1555.5 L520.0,1562.0 L525.0,1562.5 L530.0,1559.5 L535.0,1557.5 L540.0,1553.8 L545.0,1550.5 L550.0,1555.0 L555.0,1558.8 L563.8,1560.0 L570.0,1557.0 L575.0,1557.5 L580.0,1553.8 L583.8,1547.5 L587.5,1543.8 L592.5,1540.0 L597.5,1537.5 L603.8,1536.2 L607.5,1541.2 L611.2,1545.0 L616.2,1546.2 L620.0,1550.0 L623.8,1556.2 L627.5,1561.2 L630.0,1570.0 L633.8,1568.0 L636.0,1566.2 L638.8,1566.2 L642.5,1572.5 L646.2,1567.5 L650.0,1572.5 L655.0,1580.0 L658.8,1575.0 L662.5,1563.8 L666.2,1571.2 L670.0,1567.5 L673.8,1556.2 L677.5,1555.0 L681.2,1567.5 L686.2,1578.8 L691.2,1588.8 L695.0,1580.0 L698.8,1565.0 L702.5,1552.5 L706.2,1550.0 L708.8,1562.5 L712.5,1557.5 L717.5,1550.0 L722.5,1547.5 L727.5,1543.8 L732.5,1539.5 L737.5,1536.2 L742.5,1533.0 L747.5,1530.5 L751.2,1535.5 L756.2,1532.5 L762.5,1529.5 L770.0,1528.8 L777.5,1528.0 L876.0,1528.0 L878.0,1528.0 L888.0,1528.0 L890.5,1537.5 L895.5,1541.2 L900.5,1546.2 L905.5,1552.5 L910.5,1556.2 L915.5,1551.2 L920.5,1555.0 L925.5,1560.0 L929.2,1557.5 L933.0,1557.5 L938.0,1562.5 L941.8,1572.5 L946.8,1578.8 L951.8,1577.5 L955.5,1583.8 L959.2,1588.8 L963.0,1583.8 L966.8,1571.2 L970.5,1573.8 L974.2,1568.8 L978.0,1568.8 L981.8,1576.2 L985.5,1575.0 L989.2,1573.8 L993.0,1578.8 L996.8,1585.0 L1001.8,1590.0" stroke="#0000ff" stroke-width="4.9" fill="none" stroke-linejoin="round"/><text transform="translate(128.5,46.5) scale(0.975,1.0)" font-family="Liberation Serif" font-weight="bold" font-size="30" text-anchor="end">0.045</text><text transform="translate(128.5,94.3) scale(0.975,1.0)" font-family="Liberation Serif" font-weight="bold" font-size="30" text-anchor="end">0.025</text><text transform="translate(128.5,156.3) scale(0.975,1.0)" font-family="Liberation Serif" font-weight="bold" font-size="30" text-anchor="end">0</text><text transform="translate(128.5,218.3) scale(0.975,1.0)" font-family="Liberation Serif" font-weight="bold" font-size="30" text-anchor="end">-0.025</text><text transform="translate(128.5,267.9) scale(0.975,1.0)" font-family="Liberation Serif" font-weight="bold" font-size="30" text-anchor="end">-0.045</text><text transform="translate(128.5,288.1) scale(0.975,1.0)" font-family="Liberation Serif" font-weight="bold" font-size="30" text-anchor="end">0.045</text><text transform="translate(128.5,335.9) scale(0.975,1.0)" font-family="Liberation Serif" font-weight="bold" font-size="30" text-anchor="end">0.025</text><text transform="translate(128.5,395.7) scale(0.975,1.0)" font-family="Liberation Serif" font-weight="bold" font-size="30" text-anchor="end">0</text><text transform="translate(128.5,455.5) scale(0.975,1.0)" font-family="Liberation Serif" font-weight="bold" font-size="30" text-anchor="end">-0.025</text><text transform="translate(128.5,505.6) scale(0.975,1.0)" font-family="Liberation Serif" font-weight="bold" font-size="30" text-anchor="end">-0.045</text><text transform="translate(128.5,529.6) scale(0.975,1.0)" font-family="Liberation Serif" font-weight="bold" font-size="30" text-anchor="end">0.045</text><text transform="translate(128.5,577.2) scale(0.975,1.0)" font-family="Liberation Serif" font-weight="bold" font-size="30" text-anchor="end">0.025</text><text transform="translate(128.5,637.1) scale(0.975,1.0)" font-family="Liberation Serif" font-weight="bold" font-size="30" text-anchor="end">0</text><text transform="translate(128.5,697.0) scale(0.975,1.0)" font-family="Liberation Serif" font-weight="bold" font-size="30" text-anchor="end">-0.025</text><text transform="translate(128.5,746.5) scale(0.975,1.0)" font-family="Liberation Serif" font-weight="bold" font-size="30" text-anchor="end">-0.045</text><text x="136.9" y="770.5" font-family="Liberation Serif" font-weight="bold" font-size="30" text-anchor="middle">0</text><text x="245.0" y="770.5" font-family="Liberation Serif" font-weight="bold" font-size="30" text-anchor="middle">10</text><text x="353.1" y="770.5" font-family="Liberation Serif" font-weight="bold" font-size="30" text-anchor="middle">20</text><text x="461.2" y="770.5" font-family="Liberation Serif" font-weight="bold" font-size="30" text-anchor="middle">30</text><text x="569.4" y="770.5" font-family="Liberation Serif" font-weight="bold" font-size="30" text-anchor="middle">40</text><text x="677.5" y="770.5" font-family="Liberation Serif" font-weight="bold" font-size="30" text-anchor="middle">50</text><text x="785.6" y="770.5" font-family="Liberation Serif" font-weight="bold" font-size="30" text-anchor="middle">60</text><text x="893.7" y="770.5" font-family="Liberation Serif" font-weight="bold" font-size="30" text-anchor="middle">70</text><text x="1001.8" y="770.5" font-family="Liberation Serif" font-weight="bold" font-size="30" text-anchor="middle">80</text><text transform="translate(512,813.7) scale(1.06,1)" font-family="Liberation Serif" font-weight="bold" font-size="33">ti</text><text transform="translate(537.6,813.7) scale(1.06,1)" font-family="Liberation Serif" font-weight="bold" font-size="33">me(s)</text><text x="484" y="873.5" font-family="Liberation Serif" font-weight="bold" font-size="45.5"><tspan font-weight="normal">(</tspan>d<tspan font-weight="normal">)</tspan></text><text transform="translate(30.8,391.9) rotate(-90)" font-family="Liberation Serif" font-weight="bold" font-size="34" text-anchor="middle">output power increment/(pu.)</text><rect x="803.4" y="124.6" width="81.5" height="46.900000000000006" fill="white" stroke="#f0f3f0" stroke-width="1"/><text transform="translate(818.4,151) scale(1.0,1)" font-family="Liberation Serif" font-weight="bold" font-size="21">PID</text><rect x="791.6" y="393.4" width="108.0" height="47.900000000000034" fill="white" stroke="#f0f3f0" stroke-width="1"/><text transform="translate(806.3,420.7) scale(0.87,1)" font-family="Liberation Serif" font-weight="bold" font-size="21">FUZZY</text><rect x="791.6" y="656.7" width="108.0" height="47.59999999999991" fill="white" stroke="#f0f3f0" stroke-width="1"/><text transform="translate(806.3,684.4) scale(0.97,1)" font-family="Liberation Serif" font-weight="bold" font-size="21">MGPC</text><line x1="248.3" y1="66.7" x2="330.1" y2="66.7" stroke="#00ff00" stroke-width="4.2"/><line x1="415.6" y1="66.4" x2="493.8" y2="66.4" stroke="#ff0000" stroke-width="4.5" stroke-dasharray="12.5 3.9"/><line x1="574.6" y1="66.4" x2="656.9" y2="66.4" stroke="#0000ff" stroke-width="4.5" stroke-dasharray="12.3 4.2 4 4.2"/><path d="M346.32,60.20 L352.20,73.00 L340.20,73.00 Z M345.96,65.32 L348.72,71.08 L342.96,71.08 Z" fill="#000" fill-rule="evenodd"/><text x="361.2" y="71" font-family="Liberation Serif" font-weight="bold" font-size="20.5">P</text><text x="374" y="79.3" font-family="Liberation Serif" font-weight="bold" font-size="17">DG</text><path d="M513.82,60.20 L519.70,73.00 L507.70,73.00 Z M513.46,65.32 L516.22,71.08 L510.46,71.08 Z" fill="#000" fill-rule="evenodd"/><text x="528.9" y="71" font-family="Liberation Serif" font-weight="bold" font-size="20.5">P</text><text x="541" y="79.3" font-family="Liberation Serif" font-weight="bold" font-size="17">E1</text><path d="M675.02,60.20 L680.90,73.00 L668.90,73.00 Z M674.66,65.32 L677.42,71.08 L671.66,71.08 Z" fill="#000" fill-rule="evenodd"/><text x="689.7" y="71" font-family="Liberation Serif" font-weight="bold" font-size="20.5">P</text><text x="702" y="79.3" font-family="Liberation Serif" font-weight="bold" font-size="17">E2</text><text transform="translate(131.5,962.1) scale(0.97,1.07)" font-family="Liberation Serif" font-weight="bold" font-size="30" text-anchor="end">0.045</text><text transform="translate(131.5,1010.6) scale(0.97,1.07)" font-family="Liberation Serif" font-weight="bold" font-size="30" text-anchor="end">0.025</text><text transform="translate(131.5,1073.6) scale(0.97,1.07)" font-family="Liberation Serif" font-weight="bold" font-size="30" text-anchor="end">0</text><text transform="translate(131.5,1136.6) scale(0.97,1.07)" font-family="Liberation Serif" font-weight="bold" font-size="30" text-anchor="end">-0.025</text><text transform="translate(131.5,1186.9) scale(0.97,1.07)" font-family="Liberation Serif" font-weight="bold" font-size="30" text-anchor="end">-0.045</text><text transform="translate(131.5,1212.1) scale(0.97,1.07)" font-family="Liberation Serif" font-weight="bold" font-size="30" text-anchor="end">0.045</text><text transform="translate(131.5,1260.6) scale(0.97,1.07)" font-family="Liberation Serif" font-weight="bold" font-size="30" text-anchor="end">0.025</text><text transform="translate(131.5,1323.6) scale(0.97,1.07)" font-family="Liberation Serif" font-weight="bold" font-size="30" text-anchor="end">0</text><text transform="translate(131.5,1386.6) scale(0.97,1.07)" font-family="Liberation Serif" font-weight="bold" font-size="30" text-anchor="end">-0.025</text><text transform="translate(131.5,1436.9) scale(0.97,1.07)" font-family="Liberation Serif" font-weight="bold" font-size="30" text-anchor="end">-0.045</text><text transform="translate(131.5,1462.1) scale(0.97,1.07)" font-family="Liberation Serif" font-weight="bold" font-size="30" text-anchor="end">0.045</text><text transform="translate(131.5,1510.6) scale(0.97,1.07)" font-family="Liberation Serif" font-weight="bold" font-size="30" text-anchor="end">0.025</text><text transform="translate(131.5,1573.6) scale(0.97,1.07)" font-family="Liberation Serif" font-weight="bold" font-size="30" text-anchor="end">0</text><text transform="translate(131.5,1636.6) scale(0.97,1.07)" font-family="Liberation Serif" font-weight="bold" font-size="30" text-anchor="end">-0.025</text><text transform="translate(131.5,1686.9) scale(0.97,1.07)" font-family="Liberation Serif" font-weight="bold" font-size="30" text-anchor="end">-0.045</text><text transform="translate(141.1,1710.3) scale(1,1.05)" font-family="Liberation Serif" font-weight="bold" font-size="30" text-anchor="middle">0</text><text transform="translate(248.8,1710.3) scale(1,1.05)" font-family="Liberation Serif" font-weight="bold" font-size="30" text-anchor="middle">10</text><text transform="translate(356.4,1710.3) scale(1,1.05)" font-family="Liberation Serif" font-weight="bold" font-size="30" text-anchor="middle">20</text><text transform="translate(464.1,1710.3) scale(1,1.05)" font-family="Liberation Serif" font-weight="bold" font-size="30" text-anchor="middle">30</text><text transform="translate(571.8,1710.3) scale(1,1.05)" font-family="Liberation Serif" font-weight="bold" font-size="30" text-anchor="middle">40</text><text transform="translate(679.4,1710.3) scale(1,1.05)" font-family="Liberation Serif" font-weight="bold" font-size="30" text-anchor="middle">50</text><text transform="translate(787.1,1710.3) scale(1,1.05)" font-family="Liberation Serif" font-weight="bold" font-size="30" text-anchor="middle">60</text><text transform="translate(894.7,1710.3) scale(1,1.05)" font-family="Liberation Serif" font-weight="bold" font-size="30" text-anchor="middle">70</text><text transform="translate(1002.4,1710.3) scale(1,1.05)" font-family="Liberation Serif" font-weight="bold" font-size="30" text-anchor="middle">80</text><text transform="translate(515,1755.7) scale(1.05,1.05)" font-family="Liberation Serif" font-weight="bold" font-size="33">ti</text><text transform="translate(540,1755.7) scale(1.05,1.05)" font-family="Liberation Serif" font-weight="bold" font-size="33">me(s)</text><text transform="translate(487.2,1816.8) scale(1.015,1.03)" font-family="Liberation Serif" font-weight="bold" font-size="45"><tspan font-weight="normal">(</tspan>e<tspan font-weight="normal">)</tspan></text><text transform="translate(35.9,1319) rotate(-90) scale(1.02,1)" font-family="Liberation Serif" font-weight="bold" font-size="34" text-anchor="middle">output power increment/(pu.)</text><rect x="798.2" y="1042.3" width="81.59999999999991" height="48.90000000000009" fill="white" stroke="#f0f3f0" stroke-width="1"/><text transform="translate(813.8,1069.3) scale(1.0,1.03)" font-family="Liberation Serif" font-weight="bold" font-size="21">PID</text><rect x="784.8" y="1300.3" width="107.30000000000007" height="34.100000000000136" fill="white" stroke="#f0f3f0" stroke-width="1"/><text transform="translate(799.8,1327.2) scale(0.86,1.03)" font-family="Liberation Serif" font-weight="bold" font-size="21">FUZZY</text><rect x="786.4" y="1544.1" width="89.60000000000002" height="40.30000000000018" fill="white" stroke="#f0f3f0" stroke-width="1"/><text transform="translate(801.7,1571.4) scale(0.97,1.03)" font-family="Liberation Serif" font-weight="bold" font-size="21">MGPC</text><line x1="148.2" y1="1145.8" x2="229.8" y2="1145.8" stroke="#00ee00" stroke-width="4.2"/><line x1="300.7" y1="1145.8" x2="384.1" y2="1145.8" stroke="#ff0000" stroke-width="4.2"/><line x1="452.9" y1="1145.8" x2="534.5" y2="1145.8" stroke="#0000ff" stroke-width="4.2"/><line x1="584.3" y1="1144.3" x2="667" y2="1144.3" stroke="#33ee33" stroke-opacity="0.8" stroke-width="1.4" stroke-dasharray="11 11"/><line x1="722.8" y1="1144.3" x2="806.4" y2="1144.3" stroke="#ff3333" stroke-opacity="0.8" stroke-width="1.4" stroke-dasharray="11 11"/><line x1="861" y1="1144.3" x2="943.7" y2="1144.3" stroke="#3333ff" stroke-opacity="0.8" stroke-width="1.4" stroke-dasharray="11 11"/><path d="M243.61,1141.20 L248.90,1153.20 L238.10,1153.20 Z M243.28,1146.00 L245.77,1151.40 L240.58,1151.40 Z" fill="#000" fill-rule="evenodd"/><text x="254.3" y="1149.2" font-family="Liberation Serif" font-weight="bold" font-size="18.5">P</text><text x="264.4" y="1161.8" font-family="Liberation Serif" font-weight="bold" font-size="14.5">DG</text><path d="M400.11,1141.20 L405.40,1153.20 L394.60,1153.20 Z M399.78,1146.00 L402.27,1151.40 L397.08,1151.40 Z" fill="#000" fill-rule="evenodd"/><text x="410.9" y="1149.2" font-family="Liberation Serif" font-weight="bold" font-size="18.5">P</text><text x="421.3" y="1161.8" font-family="Liberation Serif" font-weight="bold" font-size="14.5">E1</text><path d="M552.31,1141.20 L557.60,1153.20 L546.80,1153.20 Z M551.98,1146.00 L554.47,1151.40 L549.28,1151.40 Z" fill="#000" fill-rule="evenodd"/><text x="563.0" y="1149.2" font-family="Liberation Serif" font-weight="bold" font-size="18.5">P</text><text x="573.4" y="1161.8" font-family="Liberation Serif" font-weight="bold" font-size="14.5">E2</text><text x="676.7" y="1148" font-family="Liberation Serif" font-weight="bold" font-size="18">&#956;</text><text x="691.3" y="1154.6" font-family="Liberation Serif" font-weight="bold" font-size="16.4">dg</text><text x="814.9" y="1148" font-family="Liberation Serif" font-weight="bold" font-size="18">&#956;</text><text x="829" y="1154.6" font-family="Liberation Serif" font-weight="bold" font-size="16.4">e1</text><text x="952.8" y="1148" font-family="Liberation Serif" font-weight="bold" font-size="18">&#956;</text><text x="967.8" y="1154.6" font-family="Liberation Serif" font-weight="bold" font-size="16.4">e2</text></svg></body></html>
